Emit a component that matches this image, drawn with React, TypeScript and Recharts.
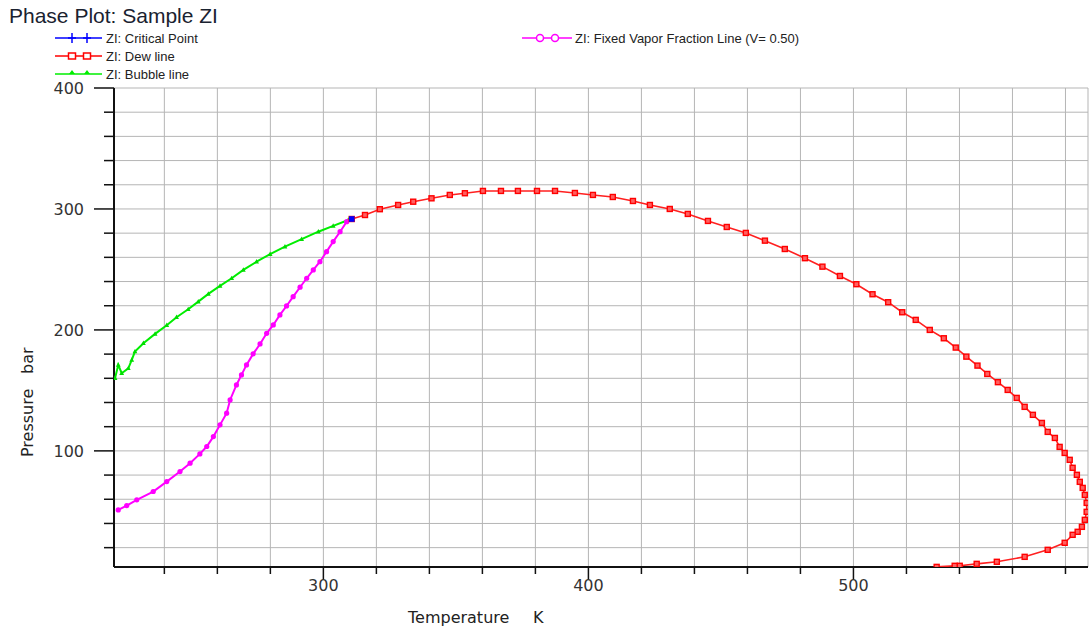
import React from 'react';
import { ScatterChart, Scatter, XAxis, YAxis, CartesianGrid } from 'recharts';

// values (temperature in K, pressure in bar)
const dewT = [310.7, 315.7, 321.3, 328.2, 333.9, 340.8, 347.7, 353.4, 360.2, 367.0, 373.4, 380.6, 387.4, 394.9, 401.7, 409.2, 416.8, 423.2, 430.7, 437.5, 445.1, 452.2, 459.4, 466.6, 474.1, 481.7, 488.3, 494.9, 501.1, 507.2, 513.1, 518.4, 523.5, 528.8, 534.1, 538.6, 542.6, 546.8, 550.5, 554.5, 558.2, 561.6, 564.6, 567.7, 571.1, 573.3, 576.0, 577.8, 579.7, 581.6, 582.7, 584.3, 585.4, 586.5, 587.3, 588.0, 588.0, 587.3, 586.2, 584.6, 582.7, 579.7, 573.3, 564.6, 554.1, 546.5, 540.1, 538.2, 531.4];
const dewP = [291.7, 295.0, 299.8, 303.3, 306.0, 308.8, 311.6, 313.0, 314.9, 314.9, 314.9, 314.9, 314.9, 313.2, 311.6, 309.9, 306.6, 303.3, 300.0, 295.9, 290.1, 285.1, 280.2, 273.8, 266.9, 259.3, 252.3, 244.6, 237.8, 229.5, 222.9, 214.6, 208.3, 200.0, 193.1, 185.4, 177.9, 170.5, 163.6, 156.8, 150.4, 143.8, 136.4, 129.8, 123.1, 115.7, 110.7, 103.3, 98.3, 92.6, 86.0, 80.2, 74.4, 69.4, 63.6, 57.0, 49.6, 43.0, 37.2, 33.1, 30.6, 24.0, 18.2, 12.4, 8.3, 6.6, 5.0, 5.0, 4.1];

const bubbleT = [310.7, 309.4, 303.7, 298.1, 291.8, 285.5, 279.9, 274.8, 269.8, 265.4, 261.0, 256.6, 252.8, 249.0, 244.6, 240.9, 236.5, 232.1, 228.9, 227.7, 226.4, 223.9, 222.6, 221.4];
const bubbleP = [291.7, 290.9, 286.0, 281.2, 275.0, 268.8, 262.6, 256.4, 249.6, 242.7, 236.4, 229.8, 223.4, 217.1, 210.5, 203.9, 196.7, 189.0, 182.1, 175.2, 168.3, 164.2, 171.1, 160.1];

const vaporT = [310.7, 308.8, 306.3, 303.7, 301.2, 298.7, 296.2, 293.7, 291.2, 288.6, 286.1, 283.6, 281.1, 278.6, 276.1, 273.5, 271.0, 269.1, 267.2, 264.8, 263.5, 261.0, 258.5, 256.0, 253.4, 249.7, 245.9, 240.9, 235.8, 229.6, 225.8, 222.6];
const vaporP = [291.7, 289.5, 281.2, 273.0, 264.7, 256.4, 249.6, 242.7, 235.3, 227.5, 219.8, 212.4, 204.1, 197.2, 188.4, 180.2, 171.1, 162.8, 154.5, 142.1, 131.2, 121.5, 111.8, 103.6, 97.5, 89.8, 82.9, 74.6, 66.4, 59.5, 54.8, 51.2];

const criticalT = [310.7];
const criticalP = [291.7];

const xTicks = [240, 260, 280, 300, 320, 340, 360, 380, 400, 420, 440, 460, 480, 500, 520, 540, 560, 580];
const yTicks = [20, 40, 60, 80, 100, 120, 140, 160, 180, 200, 220, 240, 260, 280, 300, 320, 340, 360, 380, 400];

const legendLeft = [
  { name: 'ZI: Critical Point', color: '#0000ff', mark: 'plus' },
  { name: 'ZI: Dew line', color: '#ff0000', mark: 'square' },
  { name: 'ZI: Bubble line', color: '#00ee00', mark: 'triangle' },
];
const legendRight = { name: 'ZI: Fixed Vapor Fraction Line (V= 0.50)', color: '#ff00ff', mark: 'circle' };

const zip = (ts: number[], ps: number[]) => ts.map((t, i) => ({ t, p: ps[i] }));

const W = 1089;
const H = 630;
const LEFT = 114;
const TOP = 88;
const BOTTOM = 567;

const FONT = '"DejaVu Sans", Verdana, sans-serif';
const LFONT = '"Liberation Sans", Arial, sans-serif';

const Square = (props: any) => {
  const { cx, cy } = props;
  return <rect x={cx - 2.5} y={cy - 2.5} width={5} height={5} fill="#ff6060" stroke="#ff0000" strokeWidth={1.4} />;
};
const Dot = (props: any) => <circle cx={props.cx} cy={props.cy} r={2.6} fill="#ff00ff" />;
const Tri = (props: any) => {
  const { cx, cy } = props;
  return <path d={`M${cx},${cy - 2.6}L${cx + 2.4},${cy + 1.8}L${cx - 2.4},${cy + 1.8}Z`} fill="#00dd00" />;
};
const Crit = (props: any) => {
  const { cx, cy } = props;
  return <rect x={cx - 2.8} y={cy - 2.8} width={5.6} height={5.6} fill="#0000ff" />;
};

const XTick = (props: any) => {
  const { x, payload } = props;
  const major = payload.value % 100 === 0;
  return (
    <g>
      <line x1={x} x2={x} y1={BOTTOM} y2={BOTTOM + (major ? 13 : 7)} stroke="#111" strokeWidth={1.5} />
      {major && (
        <text x={x} y={BOTTOM + 24} textAnchor="middle" fontSize={16} fontFamily={FONT} fill="#333">
          {payload.value}
        </text>
      )}
    </g>
  );
};

const YTick = (props: any) => {
  const { y, payload } = props;
  const major = payload.value % 100 === 0;
  return (
    <g>
      <line x1={LEFT - (major ? 20 : 10)} x2={LEFT} y1={y} y2={y} stroke="#111" strokeWidth={1.5} />
      {major && (
        <text x={84} y={y + 6} textAnchor="end" fontSize={16} fontFamily={FONT} fill="#333">
          {payload.value}
        </text>
      )}
    </g>
  );
};

const LegendMark = ({ mark, color, x, y }: { mark: string; color: string; x: number; y: number }) => {
  if (mark === 'plus') {
    return (
      <g stroke={color} strokeWidth={1.5}>
        <line x1={x - 4} x2={x + 4} y1={y} y2={y} />
        <line x1={x} x2={x} y1={y - 5} y2={y + 5} />
      </g>
    );
  }
  if (mark === 'square') {
    return <rect x={x - 3.5} y={y - 3} width={7} height={6} fill="#fff" stroke={color} strokeWidth={1.5} />;
  }
  if (mark === 'triangle') {
    return <path d={`M${x},${y - 4}L${x + 3},${y}L${x - 3},${y}Z`} fill={color} />;
  }
  return <circle cx={x} cy={y} r={3.5} fill="#fff" stroke={color} strokeWidth={1.5} />;
};

const Header = () => (
  <svg width={W} height={TOP} style={{ position: 'absolute', left: 0, top: 0 }}>
    <text x={9} y={23} fontSize={21} fontFamily={LFONT} fill="#1a2230">
      Phase Plot: Sample ZI
    </text>
    {legendLeft.map((item, i) => {
      const y = 38 + i * 18;
      return (
        <g key={item.name}>
          <line x1={55} x2={102} y1={y} y2={y} stroke={item.color} strokeWidth={1.5} />
          <LegendMark mark={item.mark} color={item.color} x={72} y={y} />
          <LegendMark mark={item.mark} color={item.color} x={87} y={y} />
          <text x={106} y={y + 5} fontSize={13} fontFamily={LFONT} fill="#222">
            {item.name}
          </text>
        </g>
      );
    })}
    <g>
      <line x1={522} x2={572} y1={38} y2={38} stroke={legendRight.color} strokeWidth={1.5} />
      <LegendMark mark={legendRight.mark} color={legendRight.color} x={540} y={38} />
      <LegendMark mark={legendRight.mark} color={legendRight.color} x={555} y={38} />
      <text x={575} y={43} fontSize={13} fontFamily={LFONT} fill="#222">
        {legendRight.name}
      </text>
    </g>
  </svg>
);

export default function App() {
  const dew = zip(dewT, dewP);
  const bubble = zip(bubbleT, bubbleP);
  const vapor = zip(vaporT, vaporP);
  const critical = zip(criticalT, criticalP);

  return (
    <div style={{ position: 'absolute', left: 0, top: 0, width: W, height: H, background: '#fff' }}>
      <style>{'body{margin:0}'}</style>
      <ScatterChart width={W} height={H} margin={{ top: TOP, right: 1, bottom: 0, left: 0 }}>
        <CartesianGrid stroke="#b5b5b5" strokeWidth={1} />
        <XAxis
          type="number"
          dataKey="t"
          domain={[221, 588.5]}
          ticks={xTicks}
          allowDataOverflow
          height={H - BOTTOM}
          axisLine={{ stroke: '#111', strokeWidth: 2 }}
          tickLine={false}
          tick={<XTick />}
        />
        <YAxis
          type="number"
          dataKey="p"
          domain={[4, 400]}
          ticks={yTicks}
          allowDataOverflow
          width={LEFT}
          axisLine={{ stroke: '#111', strokeWidth: 2 }}
          tickLine={false}
          tick={<YTick />}
        />
        <Scatter data={bubble} line={{ stroke: '#00ee00', strokeWidth: 2 }} lineType="joint" shape={<Tri />} isAnimationActive={false} />
        <Scatter data={vapor} line={{ stroke: '#ff00ff', strokeWidth: 2 }} lineType="joint" shape={<Dot />} isAnimationActive={false} />
        <Scatter data={dew} line={{ stroke: '#ff2020', strokeWidth: 1.6 }} lineType="joint" shape={<Square />} isAnimationActive={false} />
        <Scatter data={critical} shape={<Crit />} isAnimationActive={false} />
      </ScatterChart>
      <Header />
      <svg width={W} height={H} style={{ position: 'absolute', left: 0, top: 0, pointerEvents: 'none' }}>
        <text x={408} y={623} fontSize={16} fontFamily={FONT} fill="#222">
          Temperature
        </text>
        <text x={533} y={623} fontSize={16} fontFamily={FONT} fill="#222">
          K
        </text>
        <text transform="translate(33,457) rotate(-90)" fontSize={16} fontFamily={FONT} fill="#222">
          Pressure
        </text>
        <text transform="translate(33,374) rotate(-90)" fontSize={16} fontFamily={FONT} fill="#222">
          bar
        </text>
      </svg>
    </div>
  );
}
